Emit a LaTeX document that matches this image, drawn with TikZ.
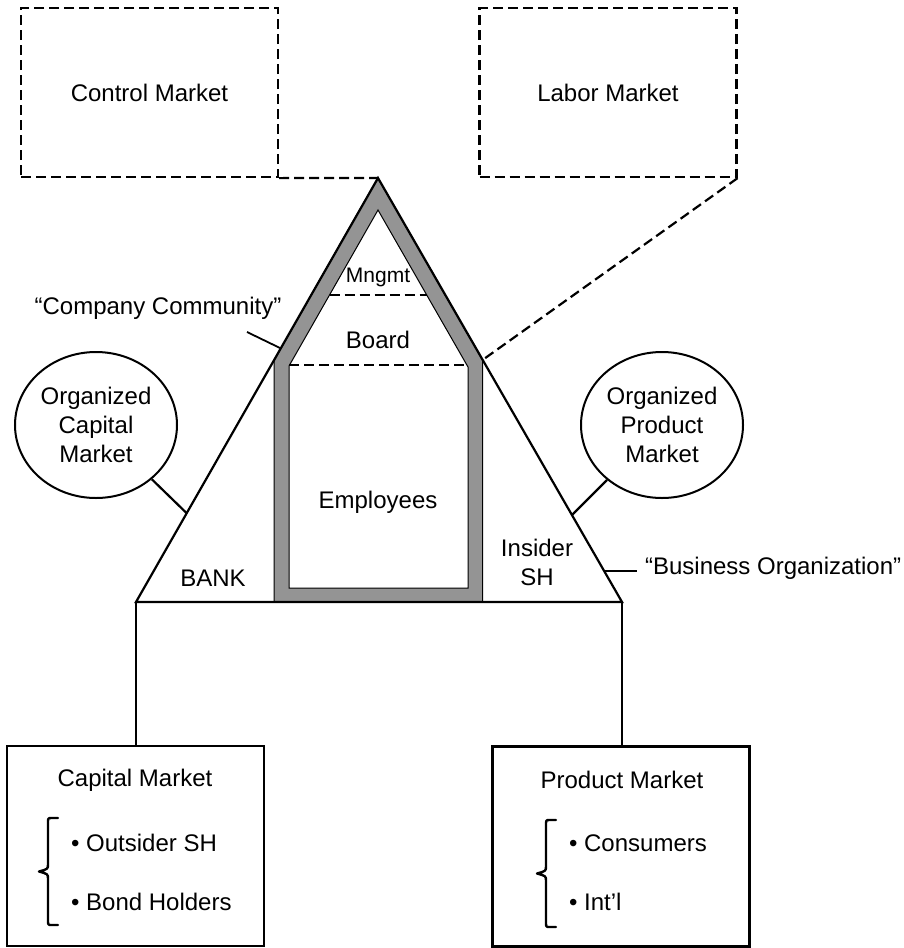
\documentclass[tikz,border=0pt]{standalone}
\usepackage{fontspec}
\setmainfont{Liberation Sans}
\usetikzlibrary{shapes.geometric}
\begin{document}
\begin{tikzpicture}[x=1pt,y=-1pt,
  line width=2.2pt,
  lbl/.style={font=\fontsize{24}{29}\selectfont, inner sep=0pt, align=center},
  dashbox/.style={draw, line width=2.2pt, dash pattern=on 10pt off 5pt, minimum width=257pt, minimum height=169pt, inner sep=0pt, font=\fontsize{24}{29}\selectfont},
  solidbox/.style={draw, line width=2.2pt, minimum width=257pt, minimum height=200pt, inner sep=0pt},
  orgcirc/.style={draw, line width=2pt, ellipse, minimum width=162pt, minimum height=146pt, inner sep=0pt, align=center, font=\fontsize{24}{29}\selectfont},
  dashline/.style={line width=2.2pt, dash pattern=on 10pt off 5pt},
  band/.style={fill=black!42, draw=black, line width=1pt, even odd rule},
  bracket/.style={line width=2.4pt, line cap=round, line join=round}
]
\useasboundingbox (0,0) rectangle (903,948);

% outer frame points of the triangle and the house band
\coordinate (apex) at (378,178);
\coordinate (bl) at (136,602);
\coordinate (br) at (622,602);
\coordinate (eaveL) at (274,360);
\coordinate (eaveR) at (482.5,360);

% "Company Community" house: grey band between two outlines
\path[band] (apex) -- (eaveR) -- (482.5,602) -- (274,602) -- (eaveL) -- cycle
            (378,210) -- (468,367) -- (468,588) -- (289,588) -- (289,366) -- cycle;

% internal levels of the house
\coordinate (mL) at (329.5,295);
\coordinate (mR) at (427,295);
\coordinate (bdL) at (289,365);
\coordinate (bdR) at (468,365);
\draw[dashline] (mL) -- (mR);
\draw[dashline] (bdL) -- (bdR);

% "Business Organization" triangle
\draw[line join=miter] (apex) -- (br) -- (bl) -- cycle;

% market boxes on top
\node[dashbox] (ctrl) at (149.5,92.5) {Control Market};
\node[dashbox] (labor) at (608,92.5) {Labor Market};
\draw[dashline] (ctrl.south east) -- (apex);
\draw[dashline] (labor.south east) -- (eaveR);

% labels inside the house and the triangle
\node[lbl, font=\fontsize{21}{25}\selectfont] (mngmt) at (378,277) {Mngmt};
\node[lbl] (board) at (378,340) {Board};
\node[lbl] (empl) at (378,502) {Employees};
\node[lbl] (bank) at (213,578) {BANK};
\node[lbl] (insider) at (537,562) {Insider\\SH};

% side labels with their leaders
\node[lbl] (cc) at (158,308) {“Company Community”};
\coordinate (ccA) at (247,332);
\coordinate (ccB) at (280,348);
\draw[line width=1.8pt] (ccA) -- (ccB);
\node[lbl, anchor=west] (bo) at (644,568) {“Business Organization”};
\coordinate (boA) at (605,571);
\coordinate (boB) at (637,571);
\draw[line width=1.8pt] (boA) -- (boB);

% organized markets
\node[orgcirc] (ocm) at (96,425) {Organized\\Capital\\Market};
\node[orgcirc] (opm) at (662,425) {Organized\\Product\\Market};
\coordinate (ocmT) at (186.5,513);
\coordinate (opmT) at (572,515);
\draw (ocm) -- (ocmT);
\draw (opm) -- (opmT);

% markets below
\node[solidbox] (capbox) at (135.5,846) {};
\node[solidbox] (prodbox) at (621,846.5) {};
\draw (bl) -- (capbox.north -| bl);
\draw (br) -- (prodbox.north -| br);

\node[lbl] (capt) at (135,780) {Capital Market};
\node[lbl, anchor=west] (cap1) at (70,843) {\textbullet\ Outsider SH};
\node[lbl, anchor=west] (cap2) at (70,902) {\textbullet\ Bond Holders};
\draw[bracket] (58,818) -- (52,818) .. controls (48,818) .. (48,823) -- (48,864)
  .. controls (48,869) .. (39,871.5) .. controls (48,874) .. (48,879) -- (48,920)
  .. controls (48,925) .. (52,925) -- (58,925);

\node[lbl] (prodt) at (622,780) {Product Market};
\node[lbl, anchor=west] (prod1) at (568,843) {\textbullet\ Consumers};
\node[lbl, anchor=west] (prod2) at (568,902) {\textbullet\ Int’l};
\draw[bracket] (556,820) -- (550,820) .. controls (546,820) .. (546,825) -- (546,866)
  .. controls (546,871) .. (537,873.5) .. controls (546,876) .. (546,881) -- (546,922)
  .. controls (546,927) .. (550,927) -- (556,927);
\end{tikzpicture}
\end{document}
